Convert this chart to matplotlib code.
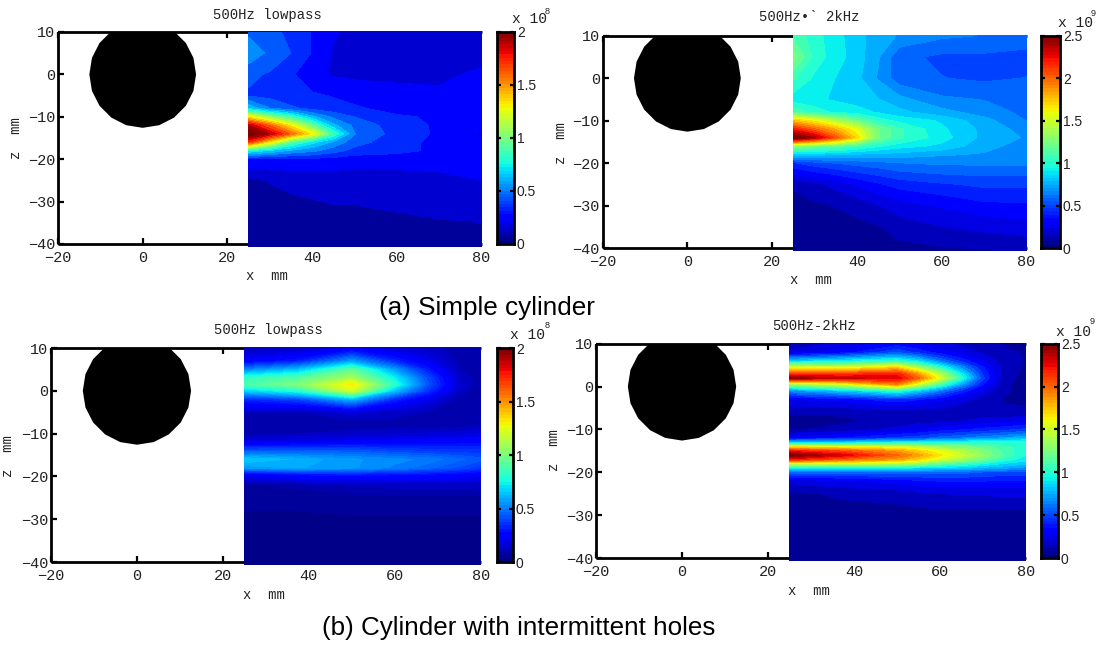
import matplotlib
matplotlib.use('Agg')
import matplotlib.pyplot as plt
import numpy as np

W, H = 1099, 646
MONO = 'Liberation Mono'
INK = '#222222'

z1 = [10, 5, 0, -5, -8, -10, -12, -14, -16, -18, -20, -25, -30, -35, -40.6]
x1 = [25, 30, 35, 40, 45, 50, 60, 70, 80]
v1 = [[.45, .42, .35, .28, .20, .17, .16, .16, .16],
      [.55, .45, .38, .28, .18, .15, .15, .15, .17],
      [.40, .37, .30, .22, .18, .17, .17, .18, .20],
      [.37, .35, .32, .30, .28, .25, .22, .20, .20],
      [.65, .48, .40, .35, .32, .30, .25, .23, .20],
      [1.3, 1.05, .85, .60, .45, .38, .30, .27, .22],
      [1.9, 1.6, 1.3, .95, .60, .45, .33, .27, .22],
      [2.1, 1.9, 1.6, 1.3, .85, .48, .34, .27, .18],
      [1.7, 1.3, .90, .70, .55, .42, .32, .26, .20],
      [.75, .65, .55, .50, .42, .35, .32, .26, .22],
      [.27, .27, .27, .26, .25, .23, .22, .22, .25],
      [.08, .10, .12, .13, .14, .14, .16, .17, .19],
      [.06, .07, .08, .09, .10, .10, .11, .12, .14],
      [.05, .05, .06, .06, .07, .07, .08, .09, .095],
      [.04, .04, .04, .04, .05, .05, .05, .05, .05]]

z2 = [10, 5, 0, -5, -8, -10, -12, -14, -16, -18, -20, -25, -30, -35, -40.6]
x2 = [25, 30, 35, 40, 45, 50, 60, 70, 80]
v2 = [[1.10, .98, .90, .80, .74, .68, .62, .60, .58],
      [1.25, 1.00, .90, .82, .70, .54, .50, .50, .48],
      [1.05, .93, .86, .80, .68, .55, .52, .50, .52],
      [.90, .88, .85, .82, .78, .72, .62, .60, .55],
      [1.10, 1.00, .93, .90, .85, .80, .72, .65, .58],
      [1.75, 1.60, 1.40, 1.20, 1.00, .92, .85, .72, .60],
      [2.20, 2.00, 1.80, 1.55, 1.22, 1.05, .88, .75, .65],
      [2.60, 2.40, 2.05, 1.70, 1.22, 1.05, .90, .75, .68],
      [1.30, 1.20, 1.15, 1.05, .96, .90, .84, .72, .65],
      [.80, .80, .78, .76, .75, .74, .70, .68, .66],
      [.42, .48, .52, .55, .57, .60, .62, .62, .62],
      [.10, .15, .20, .27, .33, .38, .42, .45, .45],
      [.05, .07, .09, .12, .17, .22, .27, .32, .33],
      [.05, .05, .05, .06, .08, .12, .17, .20, .22],
      [.04, .04, .04, .04, .05, .06, .07, .08, .10]]

z3 = [10, 7, 5, 3, 1.5, 0, -2, -5, -8, -10, -12, -14, -16, -18, -19.5, -22, -25, -30, -40.6]
x3 = [25, 37.5, 50, 60, 67.5, 75, 80]
v3 = [[.10, .12, .20, .15, .12, .08, .08],
      [.22, .30, .55, .32, .20, .09, .08],
      [.50, .62, .92, .55, .30, .10, .08],
      [.82, .90, 1.10, .72, .40, .13, .08],
      [.88, 1.00, 1.32, .80, .42, .14, .08],
      [.65, .78, 1.20, .62, .35, .12, .07],
      [.32, .38, .60, .32, .20, .08, .07],
      [.10, .10, .15, .12, .10, .07, .07],
      [.07, .07, .07, .08, .08, .08, .10],
      [.08, .10, .12, .13, .14, .15, .17],
      [.18, .20, .22, .23, .24, .25, .26],
      [.42, .42, .42, .38, .36, .35, .35],
      [.65, .60, .55, .52, .50, .45, .42],
      [.55, .58, .55, .50, .45, .40, .35],
      [.22, .28, .30, .28, .27, .25, .22],
      [.06, .08, .11, .12, .12, .12, .12],
      [.04, .04, .05, .05, .05, .05, .05],
      [.03, .03, .03, .03, .03, .03, .03],
      [.03, .03, .03, .03, .03, .03, .03]]

z4 = [10, 8, 6, 4.5, 3, 2, .5, -1, -3, -6, -8, -10, -12, -13, -14, -15, -16, -17, -18, -19, -20,
      -22, -25, -30, -40.6]
x4 = [25, 37.5, 50, 55, 60, 65, 70, 75, 80]
v4 = [[.10, .20, .30, .25, .20, .15, .10, .08, .08],
      [.20, .30, .50, .40, .30, .22, .16, .10, .08],
      [.80, .90, 1.0, .85, .60, .40, .25, .12, .08],
      [1.5, 1.5, 1.7, 1.35, 1.0, .65, .35, .14, .07],
      [2.1, 2.1, 2.2, 1.85, 1.4, .90, .42, .13, .06],
      [2.45, 2.35, 2.3, 2.0, 1.55, 1.0, .45, .12, .05],
      [1.3, 1.5, 1.9, 1.5, 1.1, .70, .35, .10, .05],
      [.65, .80, 1.0, .80, .60, .40, .22, .10, .06],
      [.25, .30, .40, .35, .28, .20, .14, .08, .07],
      [.10, .10, .12, .12, .12, .12, .12, .10, .10],
      [.05, .07, .12, .13, .14, .17, .20, .22, .25],
      [.07, .12, .20, .25, .30, .33, .37, .40, .45],
      [.30, .35, .45, .48, .55, .60, .65, .70, .75],
      [.75, .80, .90, .90, .90, .95, 1.0, 1.0, 1.0],
      [1.6, 1.55, 1.5, 1.4, 1.3, 1.25, 1.15, 1.05, 1.0],
      [2.2, 2.05, 1.85, 1.7, 1.55, 1.4, 1.25, 1.1, .95],
      [2.55, 2.3, 2.0, 1.85, 1.65, 1.5, 1.3, 1.1, .95],
      [2.2, 2.0, 1.85, 1.7, 1.5, 1.35, 1.2, 1.0, .90],
      [1.5, 1.45, 1.4, 1.3, 1.15, 1.05, .95, .85, .80],
      [.90, .90, .90, .85, .80, .80, .75, .70, .65],
      [.55, .55, .55, .55, .55, .55, .50, .50, .50],
      [.20, .25, .30, .33, .35, .35, .35, .33, .33],
      [.07, .10, .12, .15, .17, .18, .18, .20, .20],
      [.05, .05, .05, .05, .05, .05, .05, .05, .05],
      [.04, .04, .04, .04, .04, .04, .04, .04, .04]]

x_ticks = [-20, 0, 20, 40, 60, 80]
z_ticks = [-40, -30, -20, -10, 0, 10]
bar_ticks_low = [0, .5, 1, 1.5, 2]
bar_labels_low = ['0', '0.5', '1', '1.5', '2']
bar_ticks_high = [0, .5, 1, 1.5, 2, 2.5]
bar_labels_high = ['0', '0.5', '1', '1.5', '2', '2.5']
cyl_radius = 12.6

fig = plt.figure(figsize=(W / 100, H / 100), dpi=100)


def px_axes(left, right, top, bottom):
    return fig.add_axes([left / W, 1 - bottom / H, (right - left) / W, (bottom - top) / H])


def px_text(x, y, s, **kw):
    kw.setdefault('ha', 'center')
    kw.setdefault('va', 'center')
    kw.setdefault('color', INK)
    fig.text(x / W, 1 - y / H, s, **kw)


def panel(box, bar_box, x, z, v, vmax, n_levels, title, title_xy, xlab_xy, zlab_xy,
          bar_ticks, bar_labels, exp, exp_xy, sup_xy):
    ax = px_axes(*box)
    ang = np.linspace(0, 2 * np.pi, 21)
    ax.fill(cyl_radius * np.cos(ang), cyl_radius * np.sin(ang), color='black', lw=0)
    levels = np.linspace(0, vmax, n_levels)
    cs = ax.contourf(x, z, np.clip(v, 0, vmax * 1.1), levels=levels, cmap='jet', extend='both')
    cs.set_clip_on(False)
    cs.set_zorder(5)
    ax.set_xlim(-20, 80)
    ax.set_ylim(-40, 10)
    ax.set_xticks(x_ticks)
    ax.set_yticks(z_ticks)
    ax.tick_params(direction='in', top=True, right=False, width=1.6, length=4,
                   labelsize=11, labelcolor=INK)
    ax.tick_params(axis='x', pad=5)
    ax.tick_params(axis='y', pad=2)
    for lab in ax.get_xticklabels() + ax.get_yticklabels():
        lab.set_family(MONO)
    # the tick at 80 would poke out past the filled region
    last = ax.xaxis.get_major_ticks()[-1]
    last.tick1line.set_visible(False)
    last.tick2line.set_visible(False)
    for s in ax.spines.values():
        s.set_linewidth(2)
        s.set_capstyle('butt')
    ax.spines['right'].set_visible(False)
    px_text(*title_xy, title, family=MONO, fontsize=10)
    px_text(*xlab_xy, 'x  mm', family=MONO, fontsize=10)
    px_text(*zlab_xy, 'z  mm', family=MONO, fontsize=10, rotation=90)

    cax = px_axes(*bar_box)
    grad = np.linspace(0, vmax, 64).reshape(-1, 1)
    cax.imshow(grad, cmap='jet', vmin=0, vmax=vmax, origin='lower', aspect='auto',
               extent=[0, 1, 0, vmax])
    cax.set_xticks([])
    cax.set_yticks(bar_ticks)
    cax.set_yticklabels(bar_labels, family='Liberation Sans', fontsize=10, color=INK)
    cax.tick_params(direction='in', left=True, right=True, labelleft=False, labelright=True,
                    width=1.6, length=3, pad=2)
    for s in cax.spines.values():
        s.set_linewidth(2)
    px_text(exp_xy[0], exp_xy[1], 'x 10', family=MONO, fontsize=10.5)
    px_text(sup_xy[0], sup_xy[1], exp, family='Liberation Sans', fontsize=6.5)


panel((58, 481.5, 32, 244), (496.5, 514, 32, 244), x1, z1, np.array(v1), 2, 22,
      '500Hz lowpass', (267, 15), (267, 276), (16, 138),
      bar_ticks_low, bar_labels_low, '8', (529, 19), (547, 11))
panel((602.6, 1026.5, 35.7, 248), (1041, 1060, 35.7, 248), x2, z2, np.array(v2), 2.5, 30,
      '500Hz\u2022` 2kHz', (809, 17), (811, 280), (561, 143),
      bar_ticks_high, bar_labels_high, '9', (1075, 23), (1093, 13))
panel((51, 480.7, 348, 562), (496.5, 513, 348, 562), x3, z3, np.array(v3), 2, 60,
      '500Hz lowpass', (268, 330), (264, 595), (8, 456),
      bar_ticks_low, bar_labels_low, '8', (528, 335), (547, 325))
panel((596, 1026, 343.7, 558), (1041, 1058, 343.7, 558), x4, z4, np.array(v4), 2.5, 30,
      '500Hz-2kHz', (814, 326), (809, 591), (554, 450),
      bar_ticks_high, bar_labels_high, '9', (1073, 332), (1092, 322))

px_text(486.5, 308, '(a) Simple cylinder', family='Liberation Sans', fontsize=18.8, color='black')
px_text(518.5, 628, '(b) Cylinder with intermittent holes', family='Liberation Sans',
        fontsize=18.7, color='black')

fig.savefig('out.png', dpi=100)
